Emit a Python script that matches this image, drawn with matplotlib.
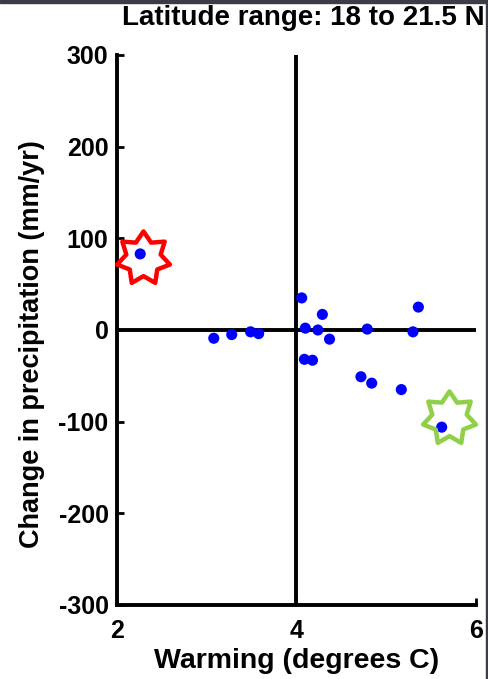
import matplotlib
matplotlib.use("Agg")
import matplotlib.pyplot as plt
from matplotlib.path import Path
from matplotlib.patches import Rectangle

plt.rcParams["font.family"] = ["Liberation Sans", "DejaVu Sans"]
plt.rcParams["font.weight"] = "bold"
plt.rcParams["axes.unicode_minus"] = False

warming = [2.26, 3.08, 3.28, 3.49, 3.58, 4.06, 4.10, 4.29, 4.24, 4.37, 4.09, 4.18,
           4.79, 4.72, 4.84, 5.17, 5.30, 5.36, 5.62]
precip = [83, -9, -5, -2, -4, 35, 2, 17, 0, -10, -32, -33,
          1, -51, -58, -65, -2, 25, -106]

star_x = [2.29, 5.70]
star_y = [78, -96]
star_colors = ["#ff0000", "#8fcf4a"]

xticks = [2, 4, 6]
yticks = [-300, -200, -100, 0, 100, 200, 300]

fig = plt.figure(figsize=(4.89, 6.79), dpi=100)
ax = fig.add_axes([0.239, 0.109, 0.734, 0.810])

ax.plot([2, 6], [0, 0], color="black", lw=2.8, zorder=1, solid_capstyle="butt")
ax.plot([4, 4], [-300, 300], color="black", lw=2.8, zorder=1, solid_capstyle="butt")

ax.scatter(warming, precip, s=64, color="#0000ff", edgecolors="none", zorder=3)

# hollow seven-pointed stars around the two highlighted runs
star = Path.unit_regular_star(7, innerCircle=0.65)
for x, y, c in zip(star_x, star_y, star_colors):
    ax.plot(x, y, marker=star, ms=39, mfc="none", mec=c, mew=3.2, zorder=4, clip_on=False)

ax.set_xlim(2, 6)
ax.set_ylim(-300, 300)
ax.set_xticks(xticks)
ax.set_yticks(yticks)
ax.tick_params(direction="in", length=5, width=2, labelsize=18)
ax.tick_params(axis="x", pad=10)
ax.tick_params(axis="y", pad=6)
for lab in ax.get_xticklabels() + ax.get_yticklabels():
    lab.set_fontweight("bold")

for s in ["top", "right"]:
    ax.spines[s].set_visible(False)
for s in ["left", "bottom"]:
    ax.spines[s].set_linewidth(2.8)

ax.set_xlabel("Warming (degrees C)", fontsize=20.5, fontweight="bold", labelpad=4)
ax.set_ylabel("Change in precipitation (mm/yr)", fontsize=19.5, fontweight="bold",
              labelpad=10, y=0.475)
fig.text(0.992, 0.973, "Latitude range: 18 to 21.5 N", ha="right", va="center",
         fontsize=20, fontweight="bold")

fig.patches.append(Rectangle((0, 0.995), 1, 0.005, transform=fig.transFigure,
                             color="#3c3c46", zorder=0))
fig.patches.append(Rectangle((0.994, 0), 0.006, 1, transform=fig.transFigure,
                             color="#3c3c46", zorder=0))

fig.savefig("out.png", dpi=100)
